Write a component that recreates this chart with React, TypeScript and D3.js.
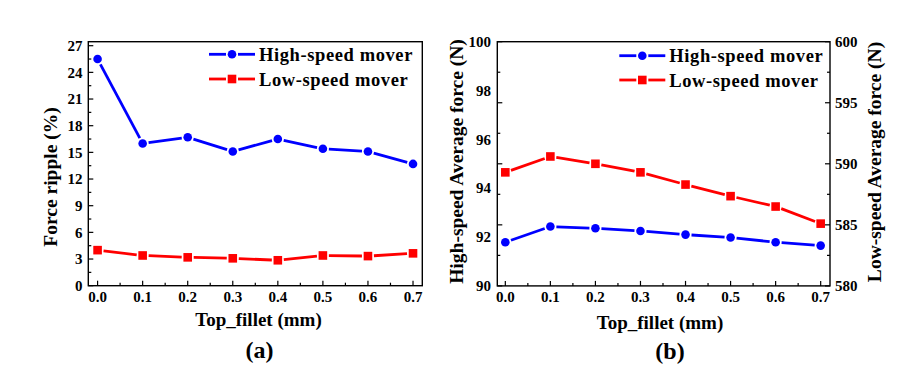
import React from "react";
import * as d3 from "d3";

const topFillet = [0.0, 0.1, 0.2, 0.3, 0.4, 0.5, 0.6, 0.7];
const xTickLabels = ["0.0", "0.1", "0.2", "0.3", "0.4", "0.5", "0.6", "0.7"];

// (a) Force ripple (%)
const rippleHigh = [25.5, 16.0, 16.7, 15.1, 16.5, 15.4, 15.1, 13.7];
const rippleLow = [4.0, 3.4, 3.19, 3.08, 2.86, 3.4, 3.33, 3.64];
const rippleTicks = [0, 3, 6, 9, 12, 15, 18, 21, 24, 27];

// (b) Average force (N)
const avgHigh = [91.79, 92.43, 92.36, 92.25, 92.1, 91.98, 91.79, 91.65];
const avgLow = [589.3, 590.6, 590.0, 589.3, 588.3, 587.35, 586.5, 585.1];
const leftTicksB = [90, 92, 94, 96, 98, 100];
const rightTicksB = [580, 585, 590, 595, 600];

const seriesNames = ["High-speed mover", "Low-speed mover"];
const BLUE = "#0000ff";
const RED = "#ff0000";
const FONT = "'Liberation Serif', 'Times New Roman', serif";

type Pt = [number, number];

function gapSegments(pts: Pt[], gap: number) {
  const out: number[][] = [];
  for (let i = 0; i < pts.length - 1; i++) {
    const [x1, y1] = pts[i];
    const [x2, y2] = pts[i + 1];
    const dx = x2 - x1, dy = y2 - y1;
    const L = Math.hypot(dx, dy);
    if (L <= 2 * gap) continue;
    const ux = dx / L, uy = dy / L;
    out.push([x1 + ux * gap, y1 + uy * gap, x2 - ux * gap, y2 - uy * gap]);
  }
  return out;
}

function Marker({ x, y, shape, color }: { x: number; y: number; shape: string; color: string }) {
  if (shape === "circle") return <circle cx={x} cy={y} r={4.3} fill={color} />;
  return <rect x={x - 4.3} y={y - 4.3} width={8.6} height={8.6} fill={color} />;
}

function Series({ pts, shape, color }: { pts: Pt[]; shape: string; color: string }) {
  const segs = gapSegments(pts, 6);
  return (
    <g>
      {segs.map((s, i) => (
        <line key={i} x1={s[0]} y1={s[1]} x2={s[2]} y2={s[3]} stroke={color} strokeWidth={2.8} />
      ))}
      {pts.map((p, i) => (
        <Marker key={i} x={p[0]} y={p[1]} shape={shape} color={color} />
      ))}
    </g>
  );
}

function LegendItem({ x, y, shape, color, label }: { x: number; y: number; shape: string; color: string; label: string }) {
  const mid = x + 23;
  return (
    <g>
      <line x1={x} y1={y} x2={mid - 6} y2={y} stroke={color} strokeWidth={2.8} />
      <line x1={mid + 6} y1={y} x2={x + 46} y2={y} stroke={color} strokeWidth={2.8} />
      <Marker x={mid} y={y} shape={shape} color={color} />
      <text x={x + 50} y={y + 6.5} fontSize={18.5} fontWeight="bold" fontFamily={FONT} letterSpacing={0.6}>
        {label}
      </text>
    </g>
  );
}

function XAxis({ x, yBottom }: { x: d3.ScaleLinear<number, number>; yBottom: number }) {
  const minors = d3.range(0, 0.7001, 0.05);
  return (
    <g>
      {minors.map((v, i) => {
        const major = i % 2 === 0;
        return (
          <line key={i} x1={x(v)} x2={x(v)} y1={yBottom} y2={yBottom - (major ? 5 : 3)} stroke="#000" strokeWidth={1.2} />
        );
      })}
      {topFillet.map((v, i) => (
        <text key={i} x={x(v)} y={302} textAnchor="middle" fontSize={15} fontWeight="bold" fontFamily={FONT}>
          {xTickLabels[i]}
        </text>
      ))}
    </g>
  );
}

function PanelA() {
  const L = 88.3, R = 422.3, T = 41.7, B = 285.7;
  const x = d3.scaleLinear().domain([-0.0206, 0.7206]).range([L, R]);
  const y = d3.scaleLinear().domain([0, 27.45]).range([B, T]);
  const hi: Pt[] = topFillet.map((v, i) => [x(v), y(rippleHigh[i])]);
  const lo: Pt[] = topFillet.map((v, i) => [x(v), y(rippleLow[i])]);
  const yMinor = d3.range(0, 27.01, 1.5);
  return (
    <g>
      {yMinor.map((v, i) => (
        <line key={i} x1={L} x2={L + (i % 2 === 0 ? 5 : 3)} y1={y(v)} y2={y(v)} stroke="#000" strokeWidth={1.2} />
      ))}
      {rippleTicks.map((v) => (
        <text key={v} x={82.5} y={y(v)} dy="0.35em" textAnchor="end" fontSize={15} fontWeight="bold" fontFamily={FONT}>
          {v}
        </text>
      ))}
      <XAxis x={x} yBottom={B} />
      <Series pts={hi} shape="circle" color={BLUE} />
      <Series pts={lo} shape="square" color={RED} />
      <rect x={L} y={T} width={R - L} height={B - T} fill="none" stroke="#000" strokeWidth={1.4} />
      <LegendItem x={209} y={54.3} shape="circle" color={BLUE} label={seriesNames[0]} />
      <LegendItem x={209} y={79} shape="square" color={RED} label={seriesNames[1]} />
      <text transform="translate(56.5,177) rotate(-90)" textAnchor="middle" fontSize={19.5} fontWeight="bold" fontFamily={FONT}>
        Force ripple (%)
      </text>
      <text x={258.5} y={326} textAnchor="middle" fontSize={19} fontWeight="bold" fontFamily={FONT}>
        Top_fillet (mm)
      </text>
      <text x={259.6} y={358} textAnchor="middle" fontSize={24} fontWeight="bold" fontFamily={FONT}>
        (a)
      </text>
    </g>
  );
}

function PanelB() {
  const L = 497.3, R = 830, T = 41.7, B = 285.9;
  const x = d3.scaleLinear().domain([-0.0178, 0.7207]).range([L, R]);
  const yL = d3.scaleLinear().domain([90, 100]).range([B, T]);
  const yR = d3.scaleLinear().domain([580, 600]).range([B, T]);
  const hi: Pt[] = topFillet.map((v, i) => [x(v), yL(avgHigh[i])]);
  const lo: Pt[] = topFillet.map((v, i) => [x(v), yR(avgLow[i])]);
  const rMinor = d3.range(580, 600.01, 2.5);
  return (
    <g>
      {rMinor.map((v, i) => {
        const len = i % 2 === 0 ? 5 : 3;
        return (
          <g key={i}>
            <line x1={L} x2={L + len} y1={yR(v)} y2={yR(v)} stroke="#000" strokeWidth={1.2} />
            <line x1={R} x2={R - len} y1={yR(v)} y2={yR(v)} stroke="#000" strokeWidth={1.2} />
          </g>
        );
      })}
      {leftTicksB.map((v) => (
        <text key={v} x={491} y={yL(v)} dy="0.35em" textAnchor="end" fontSize={15} fontWeight="bold" fontFamily={FONT}>
          {v}
        </text>
      ))}
      {rightTicksB.map((v) => (
        <text key={v} x={835} y={yR(v)} dy="0.35em" textAnchor="start" fontSize={15} fontWeight="bold" fontFamily={FONT}>
          {v}
        </text>
      ))}
      <XAxis x={x} yBottom={B} />
      <Series pts={hi} shape="circle" color={BLUE} />
      <Series pts={lo} shape="square" color={RED} />
      <rect x={L} y={T} width={R - L} height={B - T} fill="none" stroke="#000" strokeWidth={1.4} />
      <LegendItem x={619.3} y={55.7} shape="circle" color={BLUE} label={seriesNames[0]} />
      <LegendItem x={619.3} y={80} shape="square" color={RED} label={seriesNames[1]} />
      <text transform="translate(463,161.5) rotate(-90)" textAnchor="middle" fontSize={19.5} fontWeight="bold" fontFamily={FONT}>
        High-speed Average force (N)
      </text>
      <text transform="translate(881,162) rotate(-90)" textAnchor="middle" fontSize={19.5} fontWeight="bold" fontFamily={FONT}>
        Low-speed Average force (N)
      </text>
      <text x={660} y={329} textAnchor="middle" fontSize={19} fontWeight="bold" fontFamily={FONT}>
        Top_fillet (mm)
      </text>
      <text x={670} y={359} textAnchor="middle" fontSize={24} fontWeight="bold" fontFamily={FONT}>
        (b)
      </text>
    </g>
  );
}

export default function App() {
  return (
    <svg
      width={900}
      height={379}
      viewBox="0 0 900 379"
      style={{ position: "absolute", left: 0, top: 0, background: "#fff" }}
    >
      <rect x={0} y={0} width={900} height={379} fill="#fff" />
      <PanelA />
      <PanelB />
    </svg>
  );
}
